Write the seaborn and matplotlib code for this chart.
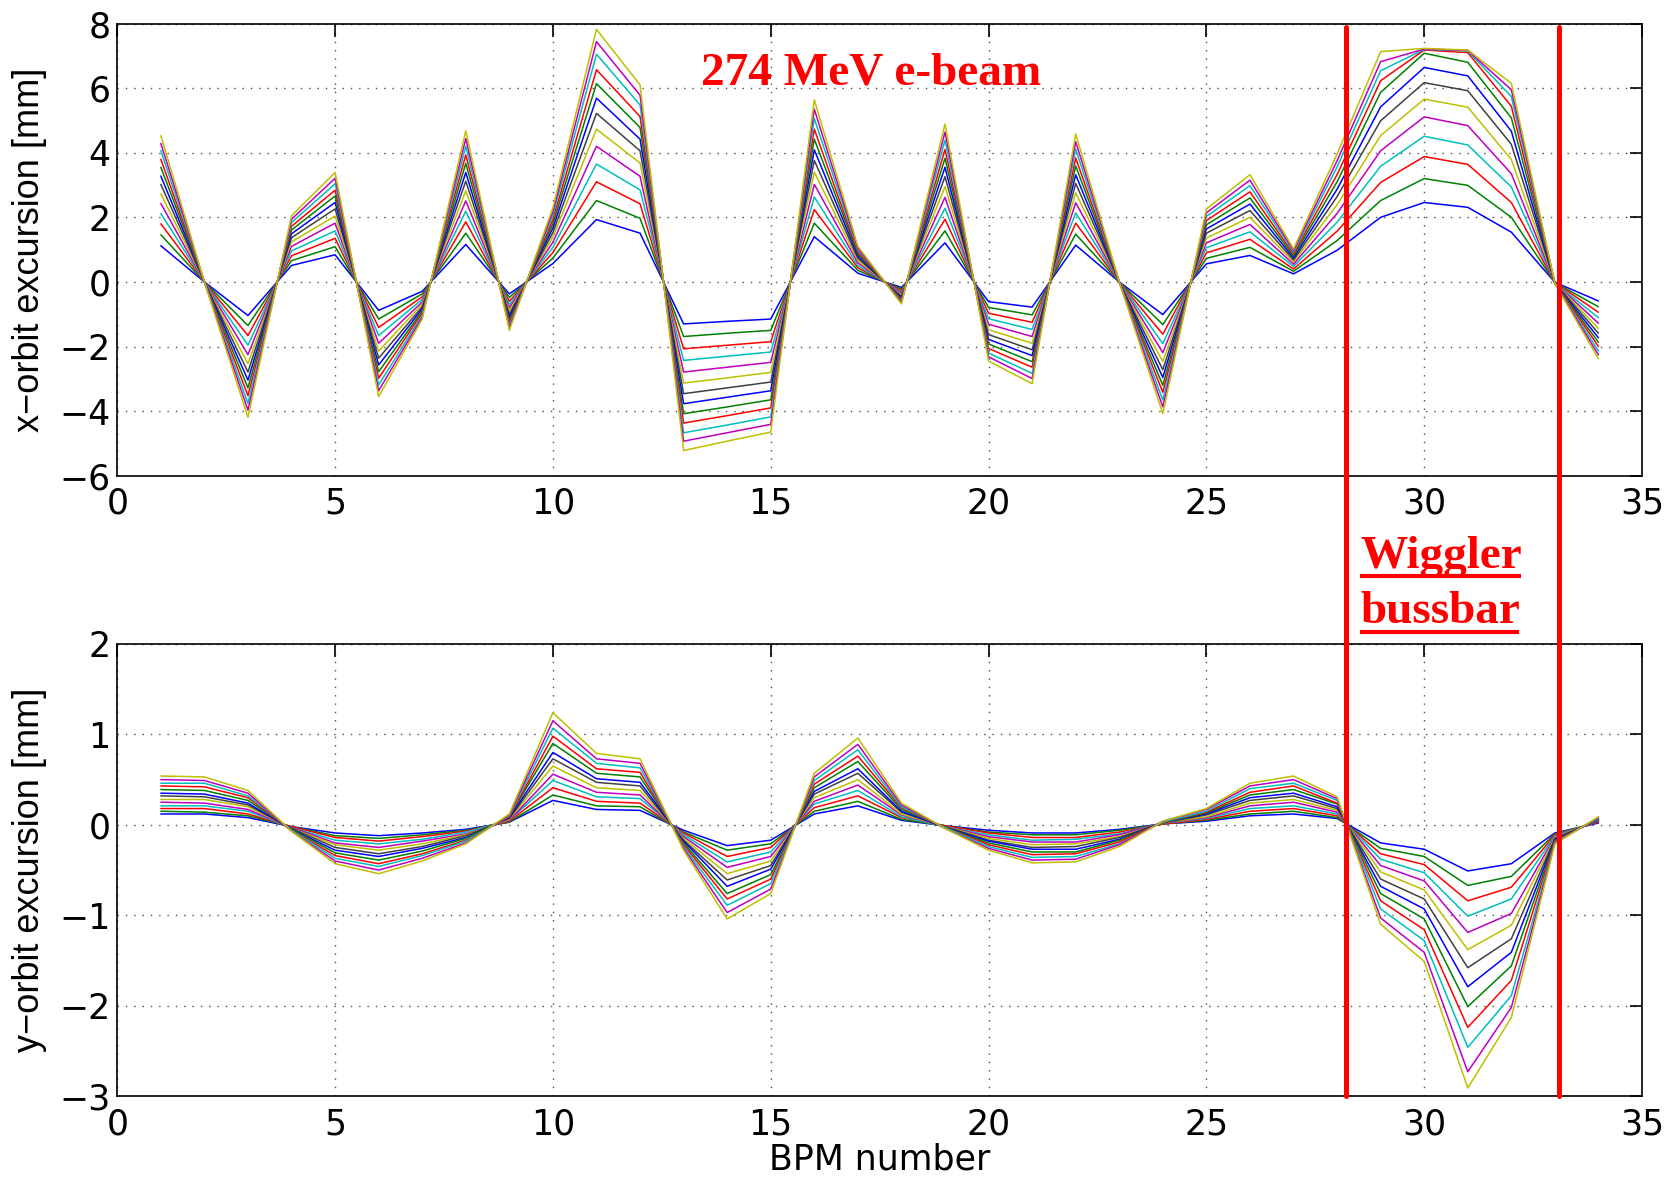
import numpy as np
import pandas as pd
import matplotlib
matplotlib.use("Agg")
import matplotlib.pyplot as plt
from matplotlib.lines import Line2D
from matplotlib.transforms import blended_transform_factory
import seaborn as sns

# ---------------- data ----------------
bpm = list(range(1, 35))

# x-orbit excursion [mm], 13 corrector settings (innermost -> outermost)
x_orbit_01 = [1.12, 0, -1.04, 0.51, 0.84, -0.88, -0.29, 1.16, -0.37, 0.57, 1.93, 1.51, -1.30, -1.22, -1.15, 1.40, 0.27, -0.17, 1.21, -0.61, -0.78, 1.14, 0, -1.01, 0.56, 0.82, 0.25, 0.98, 2.00, 2.46, 2.31, 1.54, -0.01, -0.59]
x_orbit_02 = [1.46, 0, -1.35, 0.66, 1.09, -1.15, -0.37, 1.51, -0.48, 0.74, 2.52, 1.97, -1.69, -1.59, -1.50, 1.82, 0.36, -0.22, 1.58, -0.79, -1.02, 1.48, 0, -1.32, 0.73, 1.07, 0.33, 1.28, 2.52, 3.20, 2.99, 2.00, -0.02, -0.77]
x_orbit_03 = [1.80, 0, -1.66, 0.81, 1.35, -1.41, -0.46, 1.86, -0.60, 0.91, 3.10, 2.42, -2.07, -1.96, -1.85, 2.24, 0.44, -0.27, 1.94, -0.97, -1.25, 1.82, 0, -1.62, 0.90, 1.32, 0.40, 1.57, 3.08, 3.88, 3.64, 2.46, -0.02, -0.94]
x_orbit_04 = [2.12, 0, -1.96, 0.96, 1.58, -1.66, -0.54, 2.19, -0.70, 1.07, 3.65, 2.85, -2.43, -2.30, -2.17, 2.63, 0.51, -0.32, 2.28, -1.14, -1.47, 2.14, 0, -1.91, 1.06, 1.55, 0.48, 1.85, 3.58, 4.51, 4.24, 2.94, -0.03, -1.11]
x_orbit_05 = [2.43, 0, -2.25, 1.10, 1.82, -1.90, -0.62, 2.51, -0.80, 1.23, 4.20, 3.27, -2.79, -2.64, -2.49, 3.02, 0.59, -0.36, 2.62, -1.31, -1.69, 2.45, 0, -2.19, 1.21, 1.78, 0.55, 2.12, 4.06, 5.11, 4.84, 3.35, -0.03, -1.28]
x_orbit_06 = [2.73, 0, -2.53, 1.24, 2.04, -2.14, -0.69, 2.82, -0.90, 1.39, 4.73, 3.68, -3.13, -2.97, -2.80, 3.40, 0.66, -0.41, 2.95, -1.48, -1.90, 2.76, 0, -2.46, 1.36, 2.00, 0.62, 2.39, 4.53, 5.66, 5.41, 3.79, -0.03, -1.44]
x_orbit_07 = [3.02, 0, -2.79, 1.37, 2.26, -2.36, -0.77, 3.12, -1.00, 1.53, 5.22, 4.06, -3.46, -3.28, -3.10, 3.76, 0.73, -0.45, 3.26, -1.63, -2.10, 3.05, 0, -2.72, 1.51, 2.21, 0.68, 2.64, 4.99, 6.17, 5.92, 4.26, -0.03, -1.59]
x_orbit_08 = [3.28, 0, -3.04, 1.49, 2.46, -2.57, -0.83, 3.39, -1.09, 1.67, 5.69, 4.42, -3.77, -3.57, -3.37, 4.09, 0.80, -0.49, 3.55, -1.78, -2.28, 3.32, 0, -2.96, 1.64, 2.41, 0.74, 2.87, 5.42, 6.64, 6.38, 4.67, -0.04, -1.73]
x_orbit_09 = [3.55, 0, -3.28, 1.61, 2.66, -2.78, -0.90, 3.67, -1.18, 1.80, 6.14, 4.78, -4.08, -3.87, -3.65, 4.42, 0.86, -0.53, 3.83, -1.92, -2.47, 3.59, 0, -3.20, 1.77, 2.60, 0.80, 3.10, 5.87, 7.08, 6.80, 5.08, -0.04, -1.87]
x_orbit_10 = [3.80, 0, -3.52, 1.72, 2.84, -2.98, -0.96, 3.93, -1.26, 1.93, 6.57, 5.12, -4.37, -4.14, -3.90, 4.73, 0.92, -0.57, 4.10, -2.06, -2.64, 3.84, 0, -3.42, 1.90, 2.79, 0.86, 3.32, 6.23, 7.18, 7.10, 5.44, -0.04, -2.00]
x_orbit_11 = [4.07, 0, -3.76, 1.84, 3.04, -3.19, -1.03, 4.20, -1.35, 2.07, 7.05, 5.48, -4.67, -4.43, -4.18, 5.06, 0.99, -0.61, 4.39, -2.20, -2.83, 4.11, 0, -3.66, 2.03, 2.98, 0.92, 3.56, 6.54, 7.20, 7.15, 5.74, -0.05, -2.14]
x_orbit_12 = [4.29, 0, -3.97, 1.94, 3.21, -3.37, -1.09, 4.44, -1.42, 2.18, 7.44, 5.78, -4.93, -4.67, -4.41, 5.35, 1.04, -0.64, 4.64, -2.32, -2.99, 4.34, 0, -3.87, 2.14, 3.15, 0.97, 3.75, 6.82, 7.21, 7.17, 5.95, -0.05, -2.26]
x_orbit_13 = [4.53, 0, -4.19, 2.05, 3.39, -3.55, -1.15, 4.68, -1.50, 2.30, 7.82, 6.10, -5.22, -4.93, -4.65, 5.64, 1.10, -0.68, 4.89, -2.45, -3.15, 4.58, 0, -4.08, 2.26, 3.32, 1.02, 3.96, 7.13, 7.23, 7.18, 6.15, -0.05, -2.38]

# y-orbit excursion [mm]
y_orbit_01 = [0.12, 0.12, 0.08, -0.02, -0.09, -0.12, -0.09, -0.05, 0.03, 0.27, 0.17, 0.16, -0.06, -0.23, -0.17, 0.12, 0.21, 0.05, -0.01, -0.06, -0.09, -0.09, -0.05, 0.01, 0.04, 0.10, 0.12, 0.07, -0.20, -0.27, -0.51, -0.43, -0.09, 0.02]
y_orbit_02 = [0.15, 0.14, 0.10, -0.02, -0.12, -0.15, -0.11, -0.06, 0.03, 0.33, 0.21, 0.20, -0.08, -0.28, -0.21, 0.15, 0.26, 0.06, -0.01, -0.08, -0.11, -0.11, -0.06, 0.01, 0.05, 0.12, 0.15, 0.08, -0.26, -0.35, -0.67, -0.57, -0.10, 0.03]
y_orbit_03 = [0.18, 0.18, 0.12, -0.02, -0.14, -0.18, -0.13, -0.07, 0.04, 0.41, 0.26, 0.24, -0.09, -0.35, -0.25, 0.19, 0.32, 0.08, -0.01, -0.09, -0.14, -0.14, -0.08, 0.01, 0.06, 0.15, 0.18, 0.10, -0.32, -0.44, -0.84, -0.69, -0.11, 0.03]
y_orbit_04 = [0.21, 0.21, 0.15, -0.03, -0.17, -0.21, -0.16, -0.08, 0.05, 0.49, 0.31, 0.29, -0.11, -0.41, -0.30, 0.23, 0.38, 0.09, -0.02, -0.11, -0.17, -0.16, -0.10, 0.02, 0.07, 0.18, 0.21, 0.12, -0.38, -0.53, -1.01, -0.82, -0.12, 0.04]
y_orbit_05 = [0.25, 0.24, 0.17, -0.03, -0.20, -0.25, -0.18, -0.10, 0.05, 0.56, 0.36, 0.33, -0.13, -0.47, -0.35, 0.26, 0.44, 0.11, -0.02, -0.13, -0.19, -0.19, -0.11, 0.02, 0.08, 0.21, 0.25, 0.14, -0.45, -0.62, -1.19, -0.98, -0.13, 0.04]
y_orbit_06 = [0.28, 0.28, 0.20, -0.04, -0.22, -0.28, -0.21, -0.11, 0.06, 0.65, 0.41, 0.38, -0.15, -0.54, -0.40, 0.30, 0.50, 0.12, -0.02, -0.15, -0.22, -0.21, -0.13, 0.02, 0.09, 0.24, 0.28, 0.16, -0.52, -0.72, -1.38, -1.11, -0.14, 0.05]
y_orbit_07 = [0.32, 0.31, 0.22, -0.04, -0.25, -0.32, -0.24, -0.12, 0.07, 0.73, 0.47, 0.43, -0.17, -0.61, -0.45, 0.34, 0.57, 0.14, -0.02, -0.17, -0.25, -0.24, -0.14, 0.02, 0.11, 0.27, 0.32, 0.18, -0.60, -0.82, -1.58, -1.26, -0.15, 0.05]
y_orbit_08 = [0.35, 0.34, 0.24, -0.05, -0.28, -0.35, -0.26, -0.14, 0.08, 0.80, 0.51, 0.47, -0.18, -0.68, -0.49, 0.37, 0.62, 0.15, -0.03, -0.18, -0.27, -0.27, -0.16, 0.03, 0.12, 0.30, 0.35, 0.20, -0.68, -0.93, -1.79, -1.41, -0.16, 0.06]
y_orbit_09 = [0.39, 0.38, 0.27, -0.05, -0.31, -0.39, -0.29, -0.15, 0.09, 0.90, 0.57, 0.53, -0.20, -0.76, -0.55, 0.41, 0.70, 0.17, -0.03, -0.20, -0.30, -0.30, -0.17, 0.03, 0.13, 0.33, 0.39, 0.23, -0.76, -1.04, -2.01, -1.56, -0.17, 0.06]
y_orbit_10 = [0.43, 0.42, 0.30, -0.06, -0.34, -0.43, -0.32, -0.17, 0.09, 0.98, 0.62, 0.58, -0.22, -0.82, -0.60, 0.45, 0.76, 0.19, -0.03, -0.22, -0.33, -0.32, -0.19, 0.03, 0.14, 0.36, 0.43, 0.24, -0.84, -1.16, -2.24, -1.72, -0.18, 0.07]
y_orbit_11 = [0.46, 0.46, 0.32, -0.06, -0.37, -0.46, -0.34, -0.18, 0.10, 1.07, 0.68, 0.63, -0.24, -0.89, -0.65, 0.49, 0.83, 0.20, -0.03, -0.24, -0.36, -0.35, -0.21, 0.03, 0.15, 0.40, 0.46, 0.27, -0.93, -1.28, -2.46, -1.89, -0.19, 0.07]
y_orbit_12 = [0.50, 0.49, 0.35, -0.07, -0.40, -0.50, -0.37, -0.20, 0.11, 1.15, 0.73, 0.68, -0.26, -0.97, -0.71, 0.53, 0.89, 0.22, -0.04, -0.26, -0.39, -0.38, -0.22, 0.04, 0.17, 0.43, 0.50, 0.29, -1.03, -1.41, -2.73, -2.02, -0.20, 0.08]
y_orbit_13 = [0.54, 0.53, 0.38, -0.07, -0.43, -0.54, -0.40, -0.21, 0.12, 1.24, 0.79, 0.73, -0.28, -1.04, -0.76, 0.57, 0.96, 0.24, -0.04, -0.28, -0.42, -0.41, -0.24, 0.04, 0.18, 0.46, 0.54, 0.31, -1.10, -1.51, -2.91, -2.13, -0.21, 0.09]

x_series = [x_orbit_01, x_orbit_02, x_orbit_03, x_orbit_04, x_orbit_05, x_orbit_06, x_orbit_07,
            x_orbit_08, x_orbit_09, x_orbit_10, x_orbit_11, x_orbit_12, x_orbit_13]
y_series = [y_orbit_01, y_orbit_02, y_orbit_03, y_orbit_04, y_orbit_05, y_orbit_06, y_orbit_07,
            y_orbit_08, y_orbit_09, y_orbit_10, y_orbit_11, y_orbit_12, y_orbit_13]
series_names = [f"{i:02d}" for i in range(1, 14)]

# MATLAB classic colour order b g r c m y k, repeating
line_colors = ['#0000ff', '#008000', '#ff0000', '#00bfbf', '#bf00bf', '#bfbf00', '#404040',
               '#0000ff', '#008000', '#ff0000', '#00bfbf', '#bf00bf', '#bfbf00']

x_ticks = [0, 5, 10, 15, 20, 25, 30, 35]
top_yticks = [-6, -4, -2, 0, 2, 4, 6, 8]
bot_yticks = [-3, -2, -1, 0, 1, 2]
wiggler_edges = [28.2, 33.1]


def long_frame(series):
    rows = []
    for name, vals in zip(series_names, series):
        for b, v in zip(bpm, vals):
            rows.append((b, v, name))
    return pd.DataFrame(rows, columns=["bpm", "value", "setting"])


df_x = long_frame(x_series)
df_y = long_frame(y_series)

# ---------------- style ----------------
sns.set_style("white")
plt.rcParams['font.family'] = ['DejaVu Sans']
plt.rcParams['axes.unicode_minus'] = True
plt.rcParams['text.color'] = 'black'
plt.rcParams['axes.labelcolor'] = 'black'

fig = plt.figure(figsize=(16.8, 11.89), dpi=100)
ax1 = fig.add_axes([0.0698, 0.5999, 0.9076, 0.3803])
ax2 = fig.add_axes([0.0698, 0.0781, 0.9076, 0.3803])

for ax, df, yt in ((ax1, df_x, top_yticks), (ax2, df_y, bot_yticks)):
    sns.lineplot(data=df, x="bpm", y="value", hue="setting", hue_order=series_names,
                 palette=line_colors, estimator=None, sort=False, legend=False,
                 linewidth=1.1, ax=ax)
    ax.set_xlim(0, 35)
    ax.set_ylim(yt[0], yt[-1])
    ax.set_xticks(x_ticks)
    ax.set_yticks(yt)
    ax.set_axisbelow(True)
    ax.grid(True, linestyle=(0, (1, 5)), color='0.3', linewidth=1.0)
    ax.tick_params(direction='in', length=9, width=1.2, top=True, right=True,
                   labelsize=25, colors='black')
    ax.tick_params(axis='x', pad=8)
    ax.tick_params(axis='y', pad=5)
    for s in ax.spines.values():
        s.set_color('black')
        s.set_linewidth(1.2)
        s.set_visible(True)
    ax.set_xlabel("")

sans = ['Liberation Sans', 'DejaVu Sans']
ax1.set_ylabel("x\u2212orbit excursion [mm]", fontsize=26, family=sans, color='black')
ax2.set_ylabel("y\u2212orbit excursion [mm]", fontsize=26, family=sans, color='black')
ax1.yaxis.set_label_coords(-0.046, 0.5)
ax2.yaxis.set_label_coords(-0.046, 0.5)
ax2.set_xlabel("BPM number", fontsize=25, color='black')
ax2.xaxis.set_label_coords(0.5, -0.103)

# wiggler bussbar boundaries spanning both panels
btr = blended_transform_factory(ax1.transData, fig.transFigure)
for xe in wiggler_edges:
    fig.add_artist(Line2D([xe, xe], [0.977, 0.0781], transform=btr,
                          color='#ff0000', linewidth=3.6, clip_on=False, zorder=10))

# annotations
serif = ['Liberation Serif', 'DejaVu Serif']
fig.text(0.4173, 0.9293, "274 MeV e-beam", color='#ff0000', fontsize=34,
         fontweight='bold', family=serif, ha='left', va='baseline')
fig.text(1360 / 1680, 1 - 568 / 1189, "Wiggler", color='#ff0000', fontsize=34,
         fontweight='bold', family=serif, ha='left', va='baseline')
fig.text(1360 / 1680, 1 - 623 / 1189, "bussbar", color='#ff0000', fontsize=34,
         fontweight='bold', family=serif, ha='left', va='baseline')
for y_px, x1 in ((576, 1521), (632, 1519)):
    yf = 1 - y_px / 1189
    fig.add_artist(Line2D([1360 / 1680, x1 / 1680], [yf, yf], transform=fig.transFigure,
                          color='#ff0000', linewidth=3.0, solid_capstyle='butt'))

fig.savefig("out.png", dpi=100, facecolor='white')
